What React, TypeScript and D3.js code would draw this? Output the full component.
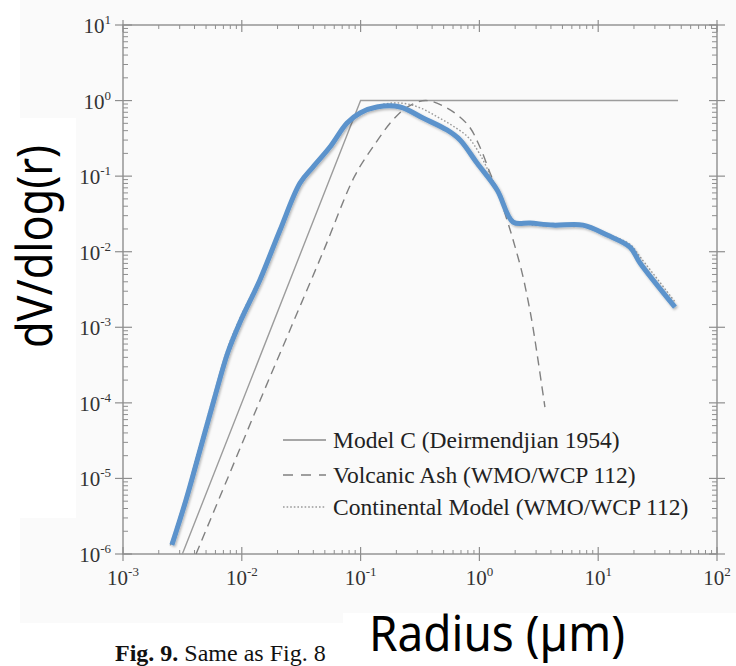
import React from "react";
import * as d3 from "d3";

// ---- data ----
const xTickExps = [-3, -2, -1, 0, 1, 2];
const yTickExps = [-6, -5, -4, -3, -2, -1, 0, 1];

const modelCR = [0.00316, 0.1, 47];
const modelCV = [1e-6, 1, 1];

const ashR = [0.00412, 0.00759, 0.01396, 0.026, 0.0484, 0.0891, 0.127, 0.187, 0.251, 0.355, 0.533, 0.802, 1.01, 1.23, 1.41, 1.74, 2.0, 2.29, 2.56, 2.82, 3.56];
const ashV = [1e-6, 1e-5, 1e-4, 1e-3, 0.01, 0.1, 0.243, 0.553, 0.832, 1.0, 0.798, 0.475, 0.243, 0.11, 0.0656, 0.024, 0.0115, 0.00522, 0.0023, 0.00101, 8.8e-5];

const contR = [0.0025, 0.0034, 0.0044, 0.0058, 0.0076, 0.0096, 0.014, 0.0207, 0.0305, 0.04, 0.055, 0.077, 0.099, 0.135, 0.19, 0.25, 0.33, 0.45, 0.6, 0.8, 1.0, 1.4, 1.9, 2.6, 4.2, 7.4, 11.9, 18.5, 23, 45];
const contV = [1.3e-6, 6.0e-6, 2.7e-5, 1.25e-4, 5.3e-4, 1.3e-3, 4.4e-3, 0.0199, 0.082, 0.132, 0.245, 0.51, 0.7, 0.85, 0.93, 0.9, 0.78, 0.6, 0.46, 0.33, 0.2, 0.068, 0.026, 0.023, 0.022, 0.0225, 0.0172, 0.0125, 0.0082, 0.0021];

const blueR = [0.00258, 0.00339, 0.00445, 0.00583, 0.00765, 0.00966, 0.0142, 0.021, 0.0309, 0.0397, 0.0552, 0.0769, 0.0989, 0.137, 0.215, 0.335, 0.533, 0.687, 0.955, 1.41, 1.92, 2.67, 4.17, 7.45, 11.9, 18.5, 22.5, 44.3];
const blueV = [1.32e-6, 5.18e-6, 2.38e-5, 1.09e-4, 4.71e-4, 1.17e-3, 4.23e-3, 0.0194, 0.0811, 0.132, 0.243, 0.505, 0.686, 0.822, 0.822, 0.587, 0.408, 0.301, 0.149, 0.0656, 0.0247, 0.024, 0.0225, 0.0225, 0.0166, 0.0115, 0.0071, 0.00185];

const legendLabels = [
  "Model C (Deirmendjian 1954)",
  "Volcanic Ash (WMO/WCP 112)",
  "Continental Model (WMO/WCP 112)",
];

const W = 736;
const H = 666;
const L = 123, R = 717, T = 25, B = 554;

export default function App() {
  const x = d3.scaleLog().domain([1e-3, 1e2]).range([L, R]);
  const y = d3.scaleLog().domain([1e-6, 1e1]).range([B, T]);

  const toPts = (rs: number[], vs: number[]) => rs.map((r, i) => [r, vs[i]] as [number, number]);
  const straight = d3.line<[number, number]>().x((d) => x(d[0])).y((d) => y(d[1]));
  const smooth = d3
    .line<[number, number]>()
    .x((d) => x(d[0]))
    .y((d) => y(d[1]))
    .curve(d3.curveCatmullRom.alpha(0.5));

  const minorX: number[] = [];
  for (let e = -3; e < 2; e++) for (let m = 2; m <= 9; m++) minorX.push(m * Math.pow(10, e));
  const minorY: number[] = [];
  for (let e = -6; e < 1; e++) for (let m = 2; m <= 9; m++) minorY.push(m * Math.pow(10, e));

  const axisCol = "#8e8e8e";
  const serif = "'Liberation Serif', 'Times New Roman', serif";
  const sans = "'Noto Sans', 'Open Sans', sans-serif";

  return (
    <svg width={W} height={H} style={{ display: "block", position: "absolute", left: 0, top: 0 }}>
      <defs>
        <filter id="sh" x="-10%" y="-10%" width="120%" height="120%">
          <feDropShadow dx="1.2" dy="1.5" stdDeviation="1" floodColor="#000" floodOpacity="0.28" />
        </filter>
      </defs>
      <rect x={0} y={0} width={W} height={H} fill="#fff" />
      <rect x={20} y={0} width={W - 20} height={623} fill="#fafafa" />
      <rect x={0} y={118} width={76} height={400} fill="#fff" />
      <rect x={343} y={613} width={W - 343} height={H - 613} fill="#fff" />

      {/* frame */}
      <rect x={L} y={T} width={R - L} height={B - T} fill="none" stroke={axisCol} strokeWidth={1.4} />

      {/* x ticks */}
      {xTickExps.map((e) => {
        const px = x(Math.pow(10, e));
        return (
          <g key={"xt" + e}>
            <line x1={px} x2={px} y1={B - 7} y2={B + 7} stroke={axisCol} strokeWidth={1.2} />
            <line x1={px} x2={px} y1={T - 5} y2={T + 7} stroke={axisCol} strokeWidth={1.2} />
            <text x={px} y={585} textAnchor="middle" fontFamily={serif} fontSize={21} fill="#333">
              10<tspan dy={-9} fontSize={13}>{e}</tspan>
            </text>
          </g>
        );
      })}
      {minorX.map((v, i) => {
        const px = x(v);
        return (
          <g key={"xm" + i}>
            <line x1={px} x2={px} y1={B - 4} y2={B} stroke={axisCol} strokeWidth={1} />
            <line x1={px} x2={px} y1={T} y2={T + 4} stroke={axisCol} strokeWidth={1} />
          </g>
        );
      })}

      {/* y ticks */}
      {yTickExps.map((e) => {
        const py = y(Math.pow(10, e));
        return (
          <g key={"yt" + e}>
            <line x1={L - 8} x2={L + 9} y1={py} y2={py} stroke={axisCol} strokeWidth={1.2} />
            <line x1={R - 8} x2={R + 8} y1={py} y2={py} stroke={axisCol} strokeWidth={1.2} />
            <text x={111} y={py + 8} textAnchor="end" fontFamily={serif} fontSize={21} fill="#333">
              10<tspan dy={-9} fontSize={13}>{e}</tspan>
            </text>
          </g>
        );
      })}
      {minorY.map((v, i) => {
        const py = y(v);
        return (
          <g key={"ym" + i}>
            <line x1={L} x2={L + 5} y1={py} y2={py} stroke={axisCol} strokeWidth={1} />
            <line x1={R - 5} x2={R} y1={py} y2={py} stroke={axisCol} strokeWidth={1} />
          </g>
        );
      })}

      {/* curves */}
      <path d={straight(toPts(modelCR, modelCV)) || ""} fill="none" stroke="#9c9c9c" strokeWidth={1.4} />
      <path d={smooth(toPts(ashR, ashV)) || ""} fill="none" stroke="#808080" strokeWidth={1.4} strokeDasharray="9,6" />
      <path d={smooth(toPts(contR, contV)) || ""} fill="none" stroke="#9a9a9a" strokeWidth={1.4} strokeDasharray="1.6,2" />
      <path d={smooth(toPts(blueR, blueV)) || ""} fill="none" stroke="#5b93cc" strokeWidth={5} filter="url(#sh)" strokeLinejoin="round" />

      {/* legend */}
      {legendLabels.map((lab, i) => {
        const ly = [440, 475, 507][i];
        const dash = [undefined, "10,8", "1.6,2"][i];
        const col = ["#8a8a8a", "#808080", "#9a9a9a"][i];
        return (
          <g key={"lg" + i}>
            <line x1={283} x2={326} y1={ly} y2={ly} stroke={col} strokeWidth={1.4} strokeDasharray={dash} />
            <text x={333} y={ly + 8} fontFamily={serif} fontSize={23.5} fill="#222">
              {lab}
            </text>
          </g>
        );
      })}

      {/* axis titles */}
      <text
        transform="translate(52,246.5) rotate(-90)"
        textAnchor="middle"
        fontFamily={sans}
        fontSize={50}
        textLength={203}
        lengthAdjust="spacingAndGlyphs"
        fill="#000"
      >
        dV/dlog(r)
      </text>
      <text x={369} y={651} fontFamily={sans} fontSize={50} textLength={256} lengthAdjust="spacingAndGlyphs" fill="#000">
        Radius (µm)
      </text>

      {/* caption */}
      <text x={115} y={661} fontFamily={serif} fontSize={24} fill="#111">
        <tspan fontWeight="bold">Fig.  9.</tspan> Same as Fig. 8
      </text>
    </svg>
  );
}
